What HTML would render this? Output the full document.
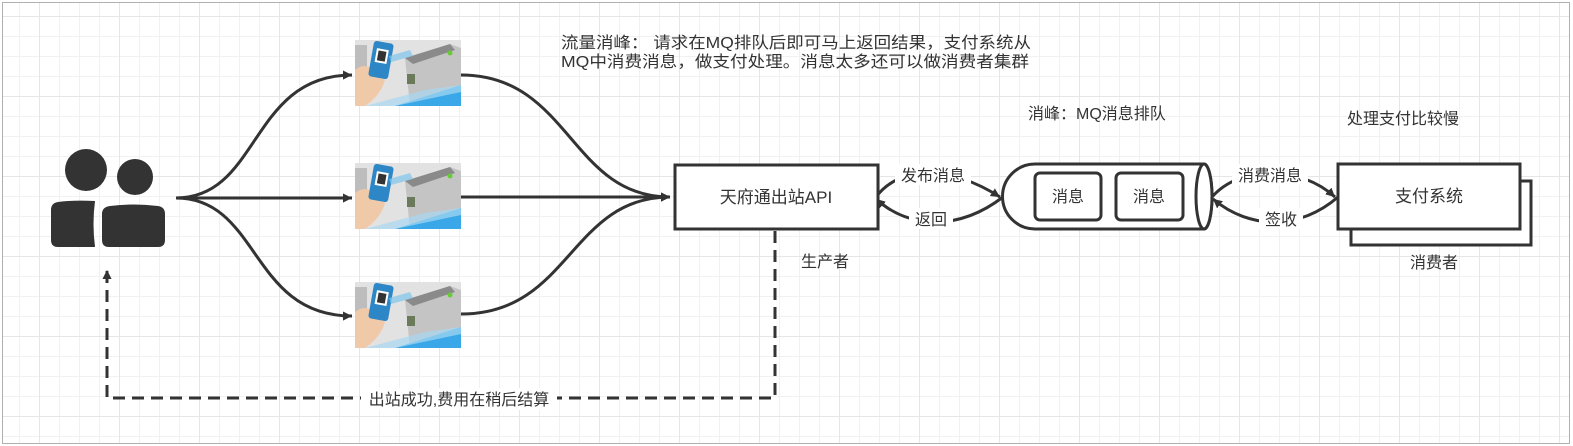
<!DOCTYPE html>
<html><head><meta charset="utf-8"><style>
html,body{margin:0;padding:0;background:#fff}
body{width:1573px;height:446px;overflow:hidden;position:relative;font-family:"Liberation Sans","Noto Sans CJK SC",sans-serif;}
.grid{position:absolute;left:2px;top:2px;width:1566px;height:440px;border:1px solid #b0b0b0;
background-image:linear-gradient(#e6e6e6 1px,transparent 1px),linear-gradient(90deg,#e6e6e6 1px,transparent 1px),linear-gradient(#f1f1f1 1px,transparent 1px),linear-gradient(90deg,#f1f1f1 1px,transparent 1px);
background-size:80px 80px,80px 80px,20px 20px,20px 20px;background-position:-3px 13px,36px -3px,-3px 13px,16px -3px;}
svg{position:absolute;left:0;top:0}
text{font-family:"Liberation Sans","Noto Sans CJK SC",sans-serif;fill:#333}
</style></head><body>
<div class="grid"></div>
<svg width="1573" height="446" viewBox="0 0 1573 446">
<defs>
<marker id="a" markerWidth="10" markerHeight="10" refX="9" refY="5" orient="auto" markerUnits="userSpaceOnUse"><path d="M0,0 L10,5 L0,10 L3,5z" fill="#333" transform="scale(1.4) translate(-3.5,-1.4)"/></marker>
<g id="img">
<rect x="0" y="0" width="106" height="66" fill="#e2e2e2"/>
<path d="M50 18 L95 4 L106 8 L106 66 L55 66 Z" fill="#c4c4c4"/>
<path d="M50 18 L95 4 L100 10 L58 24Z" fill="#8a8a8a"/>
<rect x="0" y="5" width="12" height="40" fill="#bdbdbd"/>
<rect x="52" y="34" width="8" height="10" fill="#6a7a5a"/>
<circle cx="95" cy="13" r="2.5" fill="#6c3"/>
<path d="M40 66 L106 45 L106 66Z" fill="#39a7e8"/>
<path d="M10 66 L70 50 L106 45 L106 52 L40 66Z" fill="#a8d8f2" opacity=".7"/>
<path d="M0 30 Q10 22 18 30 L30 40 Q26 55 10 66 L0 66Z" fill="#f0c9a8"/>
<rect x="16" y="2" width="20" height="36" rx="3" fill="#2d86c6" transform="rotate(10 26 20)"/>
<rect x="20" y="9" width="12" height="14" fill="#fff" transform="rotate(10 26 20)"/>
<rect x="22" y="11" width="8" height="10" fill="#333" transform="rotate(10 26 20)"/>
<path d="M34 16 L55 10 L58 16 L36 22Z" fill="#7fc6ec" opacity=".7"/>
</g>
</defs>
<circle cx="86" cy="170" r="21" fill="#333"/>
<circle cx="135" cy="177" r="18" fill="#333"/>
<path d="M58 202 Q72 200 95 201 Q92 224 95 247 L58 247 Q51 247 51 240 L51 210 Q51 203 58 202Z" fill="#333"/>
<path d="M110 206 Q133 203 158 206 Q165 207 165 214 L165 240 Q165 247 158 247 L109 247 Q102 247 102 240 L102 214 Q102 207 110 206Z" fill="#333"/>
<use href="#img" x="355" y="40"/>
<use href="#img" x="355" y="163"/>
<use href="#img" x="355" y="282"/>
<g fill="none" stroke="#333" stroke-width="3">
<path d="M176 198 C260 198 250 75 352 75" marker-end="url(#a)"/>
<path d="M176 198 L352 198" marker-end="url(#a)"/>
<path d="M176 198 C260 198 250 316 352 316" marker-end="url(#a)"/>
<path d="M461 75 C570 75 570 197 670 197" marker-end="url(#a)"/>
<path d="M461 197 L670 197" marker-end="url(#a)"/>
<path d="M461 314 C570 314 570 197 670 197" marker-end="url(#a)"/>
<path d="M775 231 L775 398 L107 398 L107 270" stroke-dasharray="12 7" marker-end="url(#a)"/>
<path d="M876 197 C900 165 950 165 1000 197" marker-end="url(#a)"/>
<path d="M1003 197 C960 230 910 230 876 199" marker-end="url(#a)"/>
<path d="M1212 197 C1240 165 1300 165 1335 197" marker-end="url(#a)"/>
<path d="M1338 197 C1300 230 1250 230 1213 199" marker-end="url(#a)"/>
</g>
<rect x="675" y="165" width="203" height="64" fill="#fff" stroke="#333" stroke-width="3"/>
<text x="776" y="203" font-size="17" text-anchor="middle">天府通出站API</text>
<path d="M1035 164 L1204 164 A8 32.5 0 0 1 1204 229 L1035 229 A32.5 32.5 0 0 1 1035 164Z" fill="#fff" stroke="#333" stroke-width="3"/>
<ellipse cx="1204" cy="196.5" rx="8" ry="32.5" fill="#fff" stroke="#333" stroke-width="3"/>
<rect x="1035" y="173" width="66" height="47" rx="5" fill="#fff" stroke="#333" stroke-width="3"/>
<rect x="1116" y="173" width="67" height="47" rx="5" fill="#fff" stroke="#333" stroke-width="3"/>
<text x="1068" y="202" font-size="16" text-anchor="middle">消息</text>
<text x="1149" y="202" font-size="16" text-anchor="middle">消息</text>
<rect x="1351" y="181" width="180" height="64" fill="#fff" stroke="#333" stroke-width="3"/>
<rect x="1338" y="164" width="182" height="65" fill="#fff" stroke="#333" stroke-width="3"/>
<text x="1429" y="202" font-size="17" text-anchor="middle">支付系统</text>
<rect x="895" y="164" width="76" height="21" fill="#fff"/>
<text x="933" y="181" font-size="16" text-anchor="middle">发布消息</text>
<rect x="909" y="208" width="44" height="21" fill="#fff"/>
<text x="931" y="225" font-size="16" text-anchor="middle">返回</text>
<rect x="1232" y="164" width="76" height="21" fill="#fff"/>
<text x="1270" y="181" font-size="16" text-anchor="middle">消费消息</text>
<rect x="1259" y="208" width="44" height="21" fill="#fff"/>
<text x="1281" y="225" font-size="16" text-anchor="middle">签收</text>
<rect x="361" y="388" width="196" height="22" fill="#fff"/>
<text x="459" y="405" font-size="16" text-anchor="middle">出站成功,费用在稍后结算</text>
<text x="801" y="267" font-size="16">生产者</text>
<text x="1410" y="268" font-size="16">消费者</text>
<text x="1347" y="124" font-size="16">处理支付比较慢</text>
<text x="1028" y="119" font-size="16">消峰：MQ消息排队</text>
<text x="561" y="48" font-size="16" textLength="470" lengthAdjust="spacingAndGlyphs">流量消峰： 请求在MQ排队后即可马上返回结果，支付系统从</text>
<text x="561" y="67" font-size="16" textLength="468" lengthAdjust="spacingAndGlyphs">MQ中消费消息，做支付处理。消息太多还可以做消费者集群</text>
</svg>
</body></html>
